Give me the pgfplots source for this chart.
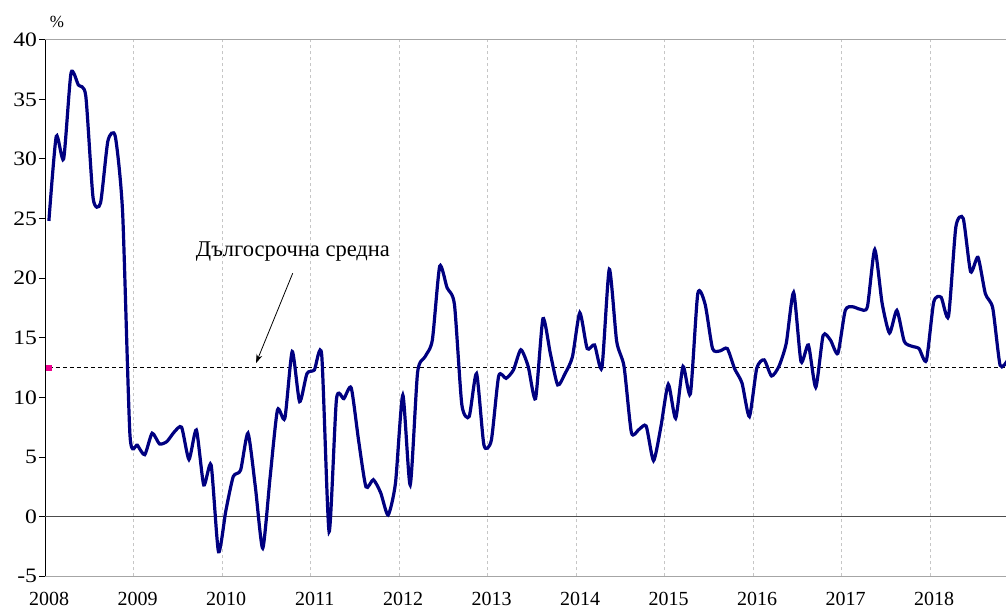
\documentclass[border=0pt]{standalone}
\usepackage{fontspec}
\setmainfont{Liberation Serif}
\usepackage{pgfplots}
\pgfplotsset{compat=1.18}
\usetikzlibrary{arrows.meta}
\definecolor{navyline}{RGB}{0,0,128}
\begin{document}
\begin{tikzpicture}
\path[use as bounding box] (-45.2pt,-35.7pt) rectangle (960.8pt,576.3pt);
\begin{axis}[
  scale only axis, width=960.8pt, height=536.6pt,
  xmin=0, xmax=130.3, ymin=-5, ymax=40,
  axis line style={draw=none},
  xtick={0,12,24,36,48,60,72,84,96,108,120},
  xticklabels={2008,2009,2010,2011,2012,2013,2014,2015,2016,2017,2018},
  ytick={-5,0,5,10,15,20,25,30,35,40},
  xtick style={draw=none},
  ytick style={black, line width=0.9pt},
  ytick pos=left,
  tick align=outside,
  major tick length=6pt,
  xmajorgrids,
  major x grid style={gray!45, line width=0.9pt, dash pattern=on 3pt off 3pt},
  /pgf/number format/assume math mode=true,
  xticklabel style={font=\fontsize{20}{20}\selectfont, anchor=north, inner sep=0pt, yshift=-10pt, xshift=4pt},
  yticklabel style={font=\fontsize{20.5}{20.5}\selectfont, anchor=east, inner sep=0pt, xshift=-2pt},
  yticklabel={\scalebox{1.15}[1]{\pgfmathprintnumber{\tick}}},
  clip=true,
]
% axis frame lines
\draw[black, line width=1.1pt] (rel axis cs:0,0) -- (rel axis cs:0,1);
\draw[gray!70, line width=1.1pt] (rel axis cs:0,0) -- (rel axis cs:1,0);
\draw[gray!70, line width=1.1pt] (rel axis cs:0,1) -- (rel axis cs:1,1);
% zero line
\addplot[gray!60!black, line width=1.3pt] coordinates {(0,0) (130.3,0)};
% long-term average
\addplot[black, line width=1.1pt, dash pattern=on 4pt off 3pt] coordinates {(0.5,12.5) (130.3,12.5)};
\addplot[only marks, mark=square*, mark size=2.5pt, mark options={draw=magenta, fill=magenta}] coordinates {(0.5,12.5)};
% main series
\addplot[navyline, line width=3.2pt, smooth, tension=0.38] coordinates {
(0.5,24.8) (1.5,31.9) (2.5,30.0) (3.5,37.2) (4.5,36.2) (5.5,35.3) (6.5,26.7) (7.5,26.3) (8.5,31.5) (9.5,31.9) (10.5,25.5) (11.5,6.8)
(12.5,6.0) (13.5,5.2) (14.5,7.0) (15.5,6.1) (16.5,6.3) (17.5,7.1) (18.5,7.5) (19.5,4.8) (20.5,7.27) (21.5,2.66) (22.5,4.34) (23.5,-2.94)
(24.5,0.5) (25.5,3.36) (26.5,3.9) (27.5,7.0) (28.5,2.5) (29.5,-2.65) (30.5,3.3) (31.5,8.95) (32.5,8.25) (33.5,13.85) (34.5,9.65) (35.5,12.0)
(36.5,12.3) (37.5,13.55) (38.5,-1.26) (39.5,9.85) (40.5,9.9) (41.5,10.8) (42.5,6.4) (43.5,2.5) (44.5,3.1) (45.5,2.0) (46.5,0.14) (47.5,2.8)
(48.5,10.2) (49.5,2.66) (50.5,12.1) (51.5,13.4) (52.5,14.8) (53.5,21.0) (54.5,19.2) (55.5,17.8) (56.5,9.4) (57.5,8.4) (58.5,12.0) (59.5,6.0)
(60.5,6.4) (61.5,11.8) (62.5,11.6) (63.5,12.3) (64.5,14.0) (65.5,12.6) (66.5,9.9) (67.5,16.6) (68.5,13.7) (69.5,11.05) (70.5,12.0) (71.5,13.4)
(72.5,17.1) (73.5,14.1) (74.5,14.4) (75.5,12.5) (76.5,20.75) (77.5,14.7) (78.5,12.6) (79.5,7.05) (80.5,7.3) (81.5,7.6) (82.5,4.7) (83.5,7.55)
(84.5,11.1) (85.5,8.25) (86.5,12.6) (87.5,10.3) (88.5,18.7) (89.5,17.8) (90.5,14.1) (91.5,13.9) (92.5,14.1) (93.5,12.4) (94.5,11.2) (95.5,8.4)
(96.5,12.45) (97.5,13.15) (98.5,11.8) (99.5,12.6) (100.5,14.55) (101.5,18.8) (102.5,13.0) (103.5,14.4) (104.5,10.85) (105.5,15.2) (106.5,14.8) (107.5,13.7)
(108.5,17.3) (109.5,17.6) (110.5,17.4) (111.5,17.6) (112.5,22.4) (113.5,17.9) (114.5,15.4) (115.5,17.3) (116.5,14.7) (117.5,14.3) (118.5,14.1) (119.5,13.1)
(120.5,18.0) (121.5,18.4) (122.5,16.8) (123.5,24.3) (124.5,25.0) (125.5,20.55) (126.5,21.75) (127.5,18.7) (128.5,17.5) (129.5,12.7) (130.5,13.1)
};
% annotation
\node[font=\fontsize{22.5}{22.5}\selectfont] at (axis cs:33.6,22.2) {Дългосрочна средна};
\draw[black, line width=0.8pt, -{Stealth[length=9pt,width=6pt]}] (axis cs:33.57,20.42) -- (axis cs:28.59,12.87);
\end{axis}
\node[font=\fontsize{17}{17}\selectfont, anchor=center] at (11.8pt,554.3pt) {\%};
\end{tikzpicture}
\end{document}
